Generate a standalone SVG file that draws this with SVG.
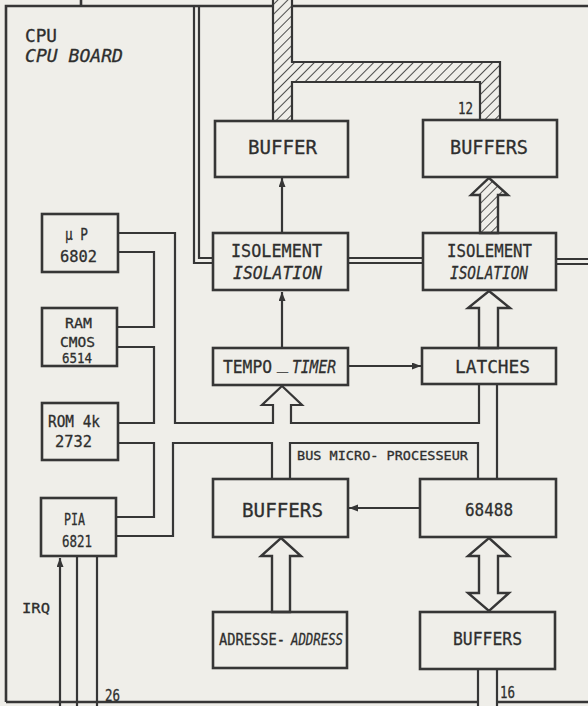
<svg xmlns="http://www.w3.org/2000/svg" width="588" height="706" viewBox="0 0 588 706">
<style>
.bx{fill:none;stroke:#363636;stroke-width:2.6}
.ln{fill:none;stroke:#363636;stroke-width:2.2}
.hl{fill:url(#hatch);stroke:none}
.ho{fill:#efeee9;stroke:#363636;stroke-width:2.4;stroke-linejoin:miter}
.ha{fill:url(#hatch);stroke:#363636;stroke-width:2.4}
text{font-family:"DejaVu Sans Mono","Liberation Mono",monospace;fill:#2e2e2e;stroke:#2e2e2e;stroke-width:0.3}
.it{font-style:italic}
</style>
<defs>
<pattern id="hatch" width="7" height="7" patternUnits="userSpaceOnUse" patternTransform="rotate(45)">
<rect width="7" height="7" fill="#efeee9"/>
<line x1="0" y1="0" x2="0" y2="7" stroke="#3a3a3a" stroke-width="1.8"/>
</pattern>
<marker id="ah" markerUnits="userSpaceOnUse" markerWidth="10" markerHeight="8" refX="9" refY="3.5" orient="auto">
<path d="M0,0 L9,3.5 L0,7 z" fill="#363636"/>
</marker>
</defs>
<rect width="588" height="706" fill="#efeee9"/>

<g id="connectors">
<path class="bx" d="M81,0 V6 M6,702 V6 H273 M292,6 H588 M6,702 H478 M497,702 H588"/>
<polygon class="hl" points="273,0 292,0 292,62 500,62 500,120 480,120 480,82 292,82 292,121 273,121"/>
<path class="ln" d="M273,0 V121 M292,0 V62 H500 V120 M480,120 V82 H292 V121"/>
<path class="ln" d="M194,6 V263 H213 M199,6 V258 H213"/>
<path class="ln" d="M348,258 H423 M348,263 H423 M556,259 H588 M556,264 H588"/>
<polygon class="ha" points="489,178 508,195 498,195 498,233 480,233 480,195 471,195"/>
<line class="ln" x1="282" y1="233" x2="282" y2="178" marker-end="url(#ah)"/>
<line class="ln" x1="282" y1="348" x2="282" y2="292" marker-end="url(#ah)"/>
<line class="ln" x1="348" y1="366" x2="421" y2="366" marker-end="url(#ah)"/>
<line class="ln" x1="420" y1="508" x2="349" y2="508" marker-end="url(#ah)"/>
<line class="ln" x1="60" y1="706" x2="60" y2="558" marker-end="url(#ah)"/>
<line class="ln" x1="77" y1="556" x2="77" y2="706"/>
<line class="ln" x1="97" y1="556" x2="97" y2="706"/>
<polygon class="ho" points="489,291 510,308 498,308 498,348 479,348 479,308 468,308"/>
<path class="ln" d="M118,233 H175 V423 H273 V405 H262 L282,386 L302,405 H291 V423 H479 V384"/>
<path class="ln" d="M497,384 V479"/>
<path class="ln" d="M118,252 H154 V327 H117 M117,347 H154 V423 H118"/>
<path class="ln" d="M118,443 H154 V517 H116 M116,536 H173 V443 H272 V479 M290,479 V443 H478 V479"/>
<polygon class="ho" points="281,538 301,556 290,556 290,612 272,612 272,556 261,556"/>
<polygon class="ho" points="489,538 509,556 498,556 498,593 509,593 489,611 468,593 479,593 479,556 468,556"/>
<path class="ln" d="M478,669 V706 M497,669 V706"/>
</g>

<g id="cpu-label">
<text x="25" y="42" font-size="17" textLength="32" lengthAdjust="spacingAndGlyphs">CPU</text>
<text x="25" y="62" font-size="17" textLength="98" lengthAdjust="spacingAndGlyphs" class="it">CPU BOARD</text>
</g>
<g id="label-12"><text x="458" y="114" font-size="15" textLength="15" lengthAdjust="spacingAndGlyphs">12</text></g>
<g id="label-16"><text x="500" y="698" font-size="15" textLength="15" lengthAdjust="spacingAndGlyphs">16</text></g>
<g id="label-26"><text x="105" y="701" font-size="15" textLength="15" lengthAdjust="spacingAndGlyphs">26</text></g>
<g id="label-irq"><text x="22" y="613" font-size="14" textLength="28" lengthAdjust="spacingAndGlyphs">IRQ</text></g>
<g id="label-bus"><text x="297" y="460" font-size="13" textLength="171" lengthAdjust="spacingAndGlyphs">BUS MICRO- PROCESSEUR</text></g>

<g id="buffer-top">
<rect class="bx" x="215" y="121" width="133" height="56"/>
<text x="248" y="154" font-size="19" textLength="69" lengthAdjust="spacingAndGlyphs">BUFFER</text>
</g>
<g id="buffers-top">
<rect class="bx" x="423" y="120" width="134" height="57"/>
<text x="450" y="154" font-size="19" textLength="78" lengthAdjust="spacingAndGlyphs">BUFFERS</text>
</g>
<g id="isolement-left">
<rect class="bx" x="213" y="233" width="135" height="57"/>
<text x="231" y="257" font-size="17" textLength="91" lengthAdjust="spacingAndGlyphs">ISOLEMENT</text>
<text x="233" y="279" font-size="17" textLength="89" lengthAdjust="spacingAndGlyphs" class="it">ISOLATION</text>
</g>
<g id="isolement-right">
<rect class="bx" x="423" y="233" width="133" height="57"/>
<text x="447" y="257" font-size="17" textLength="85" lengthAdjust="spacingAndGlyphs">ISOLEMENT</text>
<text x="450" y="279" font-size="17" textLength="78" lengthAdjust="spacingAndGlyphs" class="it">ISOLATION</text>
</g>
<g id="tempo">
<rect class="bx" x="213" y="348" width="135" height="37"/>
<text x="223" y="373" font-size="17" textLength="49" lengthAdjust="spacingAndGlyphs">TEMPO</text>
<text x="277" y="369" font-size="14" textLength="11" lengthAdjust="spacingAndGlyphs">_</text>
<text x="292" y="373" font-size="17" textLength="44" lengthAdjust="spacingAndGlyphs" class="it">TIMER</text>
</g>
<g id="latches">
<rect class="bx" x="422" y="348" width="134" height="36"/>
<text x="455" y="373" font-size="18" textLength="75" lengthAdjust="spacingAndGlyphs">LATCHES</text>
</g>
<g id="mp6802">
<rect class="bx" x="42" y="214" width="76" height="58"/>
<text x="65" y="240" font-size="15" textLength="23" lengthAdjust="spacingAndGlyphs">µ P</text>
<text x="60" y="262" font-size="16" textLength="37" lengthAdjust="spacingAndGlyphs">6802</text>
</g>
<g id="ram">
<rect class="bx" x="42" y="308" width="75" height="58"/>
<text x="65" y="328" font-size="14" textLength="27" lengthAdjust="spacingAndGlyphs">RAM</text>
<text x="60" y="347" font-size="14" textLength="35" lengthAdjust="spacingAndGlyphs">CMOS</text>
<text x="62" y="363" font-size="14" textLength="30" lengthAdjust="spacingAndGlyphs">6514</text>
</g>
<g id="rom">
<rect class="bx" x="42" y="403" width="76" height="57"/>
<text x="48" y="427" font-size="15" textLength="52" lengthAdjust="spacingAndGlyphs">ROM 4k</text>
<text x="55" y="447" font-size="16" textLength="37" lengthAdjust="spacingAndGlyphs">2732</text>
</g>
<g id="pia">
<rect class="bx" x="41" y="498" width="75" height="58"/>
<text x="64" y="525" font-size="16" textLength="21" lengthAdjust="spacingAndGlyphs">PIA</text>
<text x="62" y="547" font-size="16" textLength="30" lengthAdjust="spacingAndGlyphs">6821</text>
</g>
<g id="buffers-mid">
<rect class="bx" x="213" y="479" width="135" height="58"/>
<text x="242" y="517" font-size="19" textLength="81" lengthAdjust="spacingAndGlyphs">BUFFERS</text>
</g>
<g id="ctrl-68488">
<rect class="bx" x="420" y="479" width="136" height="58"/>
<text x="465" y="516" font-size="17" textLength="48" lengthAdjust="spacingAndGlyphs">68488</text>
</g>
<g id="adresse">
<rect class="bx" x="213" y="612" width="134" height="56"/>
<text x="219" y="645" font-size="16" textLength="66" lengthAdjust="spacingAndGlyphs">ADRESSE-</text>
<text x="291" y="645" font-size="16" textLength="52" lengthAdjust="spacingAndGlyphs" class="it">ADDRESS</text>
</g>
<g id="buffers-bot">
<rect class="bx" x="420" y="612" width="135" height="57"/>
<text x="453" y="645" font-size="18" textLength="69" lengthAdjust="spacingAndGlyphs">BUFFERS</text>
</g>
</svg>
